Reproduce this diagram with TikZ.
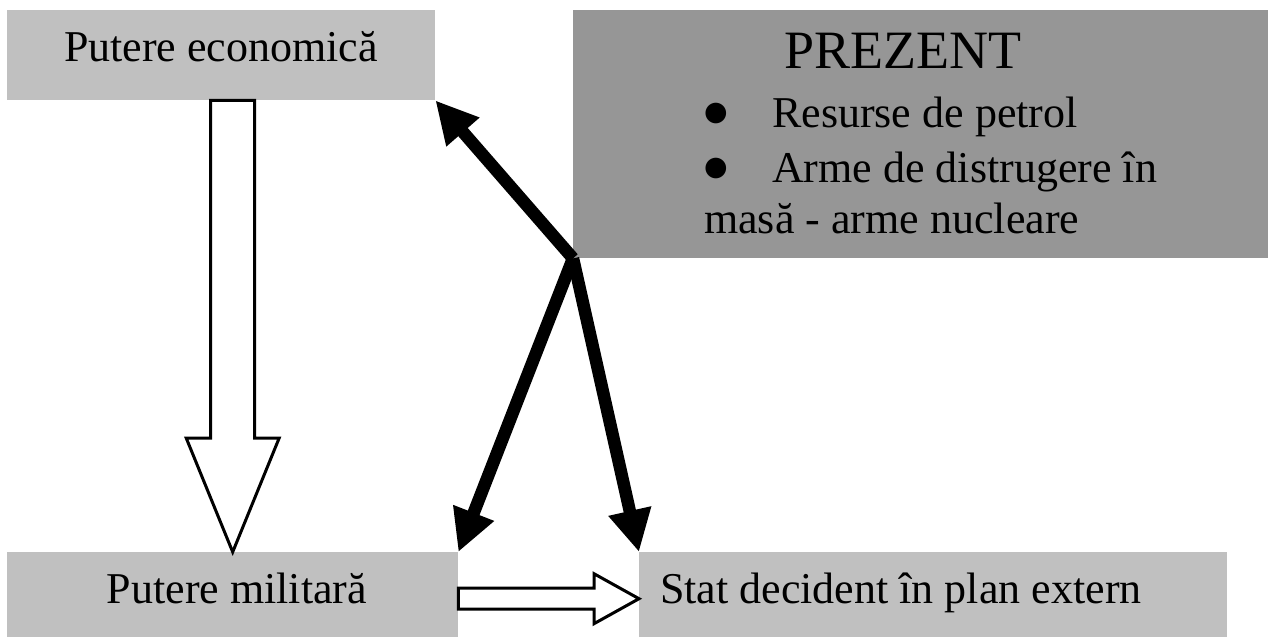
\documentclass[tikz,border=0pt]{standalone}
\usepackage{fontspec}
\setmainfont{Liberation Serif}
\newfontfamily\symbolfont{DejaVu Sans}
\usetikzlibrary{arrows.meta,calc}
\definecolor{boxlight}{RGB}{192,192,192}
\definecolor{boxdark}{RGB}{150,150,150}
\begin{document}
\begin{tikzpicture}[x=1pt,y=-1pt,
  lightbox/.style={fill=boxlight, draw=none, inner sep=0pt, anchor=north west},
  darkbox/.style={fill=boxdark, draw=none, inner sep=0pt, anchor=north west},
  label/.style={inner sep=0pt, font=\fontsize{44}{53}\selectfont},
  title/.style={inner sep=0pt, font=\fontsize{54}{64}\selectfont},
  bulletmark/.style={inner sep=0pt, font=\symbolfont\fontsize{27}{30}\selectfont, anchor=base west},
  hollow/.style={draw=black, fill=white, line width=3pt, line join=miter},
  boldarrow/.style={line width=12.5pt, -{Triangle[length=42pt,width=41pt]}}
]
\useasboundingbox (0,0) rectangle (1268,637);

% boxes
\node[lightbox, minimum width=428pt, minimum height=90pt] (econ) at (7,10) {};
\node[darkbox, minimum width=695pt, minimum height=248pt] (prez) at (573,10) {};
\node[lightbox, minimum width=451pt, minimum height=85pt] (mil) at (7,552) {};
\node[lightbox, minimum width=588pt, minimum height=85pt] (stat) at (639,552) {};

% hollow block arrow: economic power -> military power
\coordinate (dtop) at (mil.north |- econ.south);
\coordinate (dtip) at (mil.north);
\draw[hollow] ($(dtop)+(-22,0)$) -- ($(dtop)+(22,0)$) -- ($(dtip)+(22,-114)$)
  -- ($(dtip)+(46.5,-114)$) -- (dtip) -- ($(dtip)+(-46.5,-114)$)
  -- ($(dtip)+(-22,-114)$) -- cycle;

% hollow block arrow: military power -> deciding state
\coordinate (rtail) at ($(mil.east)+(0,4)$);
\coordinate (rtip) at (stat.west |- rtail);
\draw[hollow] ($(rtail)+(0,-10.5)$) -- ($(rtip)+(-45,-10.5)$) -- ($(rtip)+(-45,-25)$)
  -- (rtip) -- ($(rtip)+(-45,25)$) -- ($(rtip)+(-45,10.5)$)
  -- ($(rtail)+(0,10.5)$) -- cycle;

% bold arrows out of the present-day box
\draw[boldarrow] (prez.south west) -- (econ.south east);
\draw[boldarrow] (prez.south west) -- (mil.north east);
\draw[boldarrow] (prez.south west) -- (stat.north west);

% texts
\node[label, anchor=base] (econtxt) at (221,61) {Putere economică};
\node[title, anchor=base] (preztitle) at (903,68) {PREZENT};
\node[bulletmark] (bulletA) at (704,120) {●};
\node[label, anchor=base west] (itemA) at (772,127) {Resurse de petrol};
\node[bulletmark] (bulletB) at (704,175) {●};
\node[label, anchor=base west] (itemB) at (772,182) {Arme de distrugere în};
\node[label, anchor=base west] (itemBb) at (704,233) {masă - arme nucleare};
\node[label, anchor=base] (miltxt) at (237,603) {Putere militară};
\node[label, anchor=base west] (stattxt) at (660,603) {Stat decident în plan extern};
\end{tikzpicture}
\end{document}
